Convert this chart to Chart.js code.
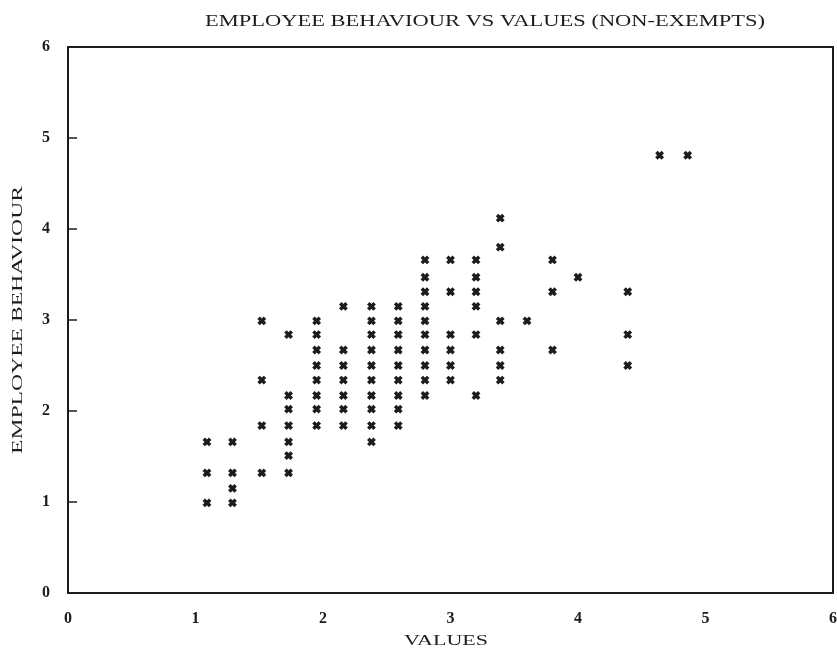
<!DOCTYPE html>
<html>
<head>
<meta charset="utf-8">
<script src="https://cdn.jsdelivr.net/npm/chart.js@4"></script>
<style>
  html, body { margin: 0; padding: 0; background: #fff; }
  #wrap { width: 837px; height: 654px; }
</style>
</head>
<body>
<div id="wrap"><canvas id="chart" width="837" height="654"></canvas></div>
<script>
// Chart text
const chartTitle = 'EMPLOYEE BEHAVIOUR VS VALUES (NON-EXEMPTS)';
const xTitle = 'VALUES';
const yTitle = 'EMPLOYEE BEHAVIOUR';

// Scatter points (values, behaviour), read column by column
const valuesX = [
  1.09, 1.09, 1.09,
  1.29, 1.29, 1.29, 1.29,
  1.52, 1.52, 1.52, 1.52,
  1.73, 1.73, 1.73, 1.73, 1.73, 1.73, 1.73,
  1.95, 1.95, 1.95, 1.95, 1.95, 1.95, 1.95, 1.95,
  2.16, 2.16, 2.16, 2.16, 2.16, 2.16, 2.16,
  2.38, 2.38, 2.38, 2.38, 2.38, 2.38, 2.38, 2.38, 2.38, 2.38,
  2.59, 2.59, 2.59, 2.59, 2.59, 2.59, 2.59, 2.59, 2.59,
  2.80, 2.80, 2.80, 2.80, 2.80, 2.80, 2.80, 2.80, 2.80, 2.80,
  3.00, 3.00, 3.00, 3.00, 3.00, 3.00,
  3.20, 3.20, 3.20, 3.20, 3.20, 3.20,
  3.39, 3.39, 3.39, 3.39, 3.39, 3.39,
  3.60,
  3.80, 3.80, 3.80,
  4.00,
  4.39, 4.39, 4.39,
  4.64,
  4.86
];
const behaviourY = [
  0.99, 1.32, 1.66,
  0.99, 1.15, 1.32, 1.66,
  1.32, 1.84, 2.34, 2.99,
  1.32, 1.51, 1.66, 1.84, 2.02, 2.17, 2.84,
  1.84, 2.02, 2.17, 2.34, 2.50, 2.67, 2.84, 2.99,
  1.84, 2.02, 2.17, 2.34, 2.50, 2.67, 3.15,
  1.66, 1.84, 2.02, 2.17, 2.34, 2.50, 2.67, 2.84, 2.99, 3.15,
  1.84, 2.02, 2.17, 2.34, 2.50, 2.67, 2.84, 2.99, 3.15,
  2.17, 2.34, 2.50, 2.67, 2.84, 2.99, 3.15, 3.31, 3.47, 3.66,
  2.34, 2.50, 2.67, 2.84, 3.31, 3.66,
  2.17, 2.84, 3.15, 3.31, 3.47, 3.66,
  2.34, 2.50, 2.67, 2.99, 3.80, 4.12,
  2.99,
  2.67, 3.31, 3.66,
  3.47,
  2.50, 2.84, 3.31,
  4.81,
  4.81
];

// Axis range and tick labels
const axisMin = 0;
const axisMax = 6;
const tickLabels = ['0', '1', '2', '3', '4', '5', '6'];

const ink = '#1c1c1c';
const serif = '"Liberation Serif", "DejaVu Serif", serif';

const points = valuesX.map((x, i) => ({ x: x, y: behaviourY[i] }));

// draw text stretched sideways to a given width (the scan lettering is wide)
function wideText(ctx, text, cx, cy, width, angle) {
  ctx.save();
  ctx.translate(cx, cy);
  ctx.rotate(angle);
  const w = ctx.measureText(text).width;
  ctx.scale(width / w, 1);
  ctx.fillText(text, 0, 0);
  ctx.restore();
}

// Frame, inward y ticks and the titles
const framePlugin = {
  id: 'frame',
  afterDraw(chart) {
    const { ctx, chartArea: a, scales } = chart;
    ctx.save();
    ctx.strokeStyle = ink;
    ctx.lineWidth = 2;
    ctx.strokeRect(a.left, a.top, a.right - a.left, a.bottom - a.top);

    ctx.lineWidth = 1.5;
    for (let v = 1; v < axisMax; v++) {
      const py = scales.y.getPixelForValue(v);
      ctx.beginPath();
      ctx.moveTo(a.left, py);
      ctx.lineTo(a.left + 9, py);
      ctx.stroke();
    }

    ctx.fillStyle = ink;
    ctx.textAlign = 'center';
    ctx.textBaseline = 'middle';
    ctx.font = '17px ' + serif;
    wideText(ctx, chartTitle, 485, 22, 560, 0);
    ctx.font = '15px ' + serif;
    wideText(ctx, xTitle, 446, 641, 84, 0);
    wideText(ctx, yTitle, 18, 320, 268, -Math.PI / 2);
    ctx.restore();
  }
};

const chart = new Chart(document.getElementById('chart'), {
  type: 'scatter',
  data: {
    datasets: [{
      data: points,
      pointStyle: 'crossRot',
      pointRadius: 4.5,
      pointHoverRadius: 4.5,
      pointBorderWidth: 3.5,
      borderColor: ink,
      backgroundColor: ink
    }]
  },
  options: {
    responsive: false,
    animation: false,
    layout: { padding: { top: 47, right: 4, bottom: 0, left: 0 } },
    plugins: {
      legend: { display: false },
      tooltip: { enabled: false }
    },
    scales: {
      x: {
        type: 'linear',
        min: axisMin,
        max: axisMax,
        afterFit(scale) {
          scale.height = 61;
          scale.paddingLeft = 0;
          scale.paddingRight = 0;
        },
        grid: { display: false, drawTicks: false },
        border: { display: false },
        ticks: {
          stepSize: 1,
          padding: 16,
          color: ink,
          font: { family: serif, size: 16, weight: 'bold' },
          callback: (v) => tickLabels[v]
        }
      },
      y: {
        type: 'linear',
        min: axisMin,
        max: axisMax,
        afterFit(scale) {
          scale.width = 68;
          scale.paddingTop = 0;
          scale.paddingBottom = 0;
        },
        grid: { display: false, drawTicks: false },
        border: { display: false },
        ticks: {
          stepSize: 1,
          padding: 18,
          color: ink,
          font: { family: serif, size: 16, weight: 'bold' },
          callback: (v) => tickLabels[v]
        }
      }
    }
  },
  plugins: [framePlugin]
});

// the marker size would otherwise add 8px of padding round the plot area
chart.getDatasetMeta(0).controller.getMaxOverflow = () => 0;
chart.update();
</script>
</body>
</html>
